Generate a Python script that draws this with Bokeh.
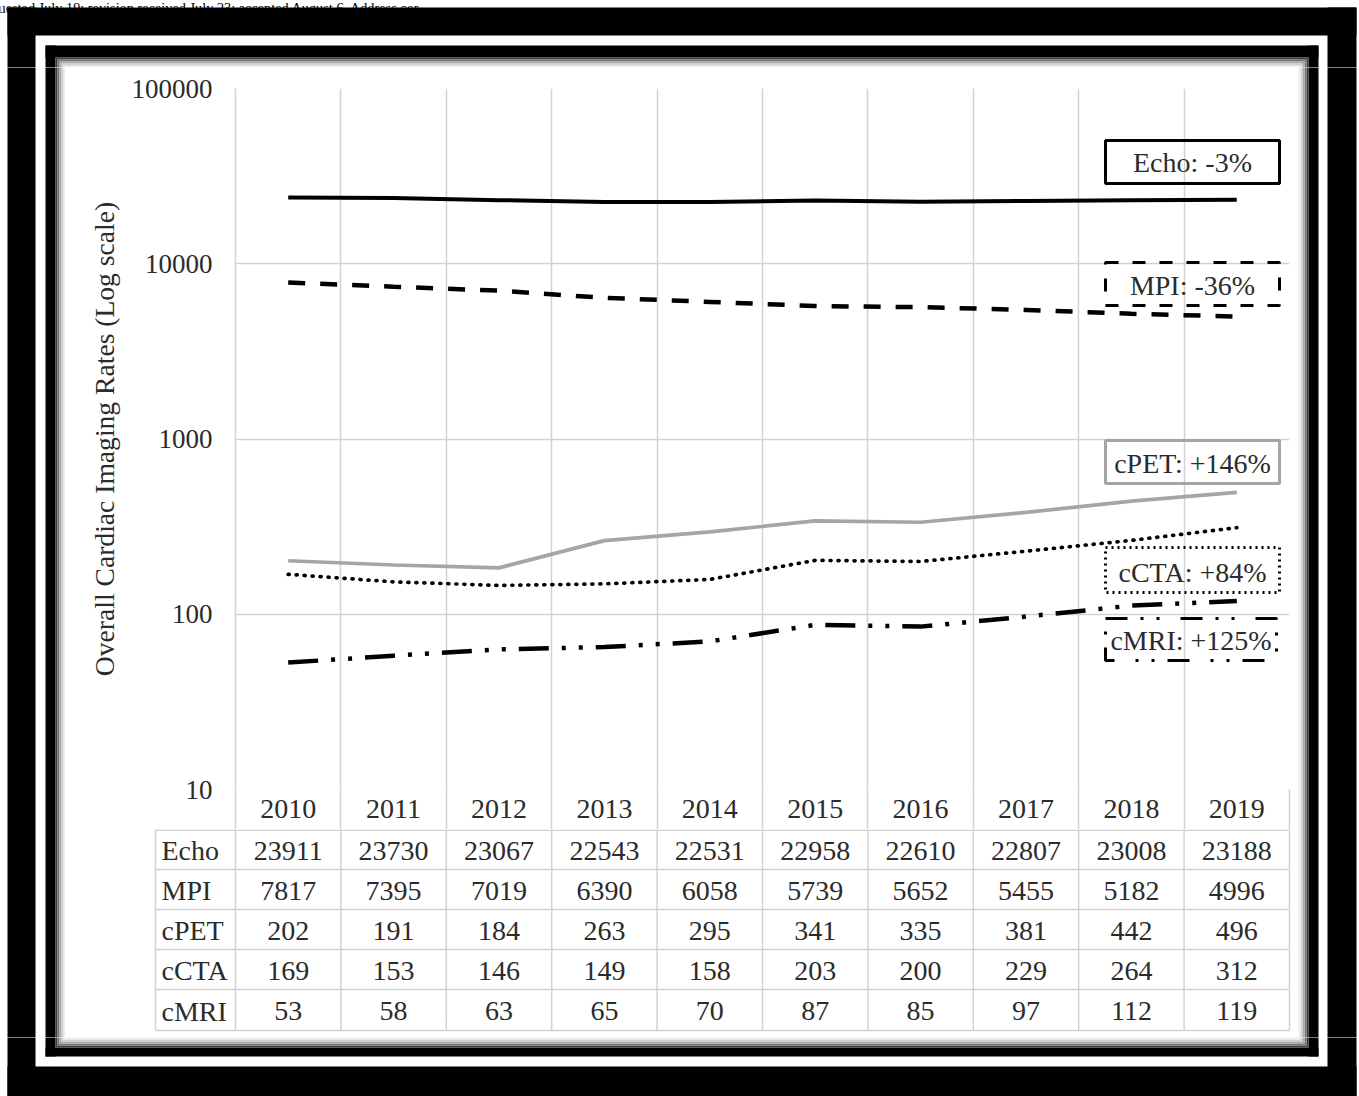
from bokeh.plotting import figure
from bokeh.layouts import row, column
from bokeh.models import (Range1d, FixedTicker, PrintfTickFormatter, BoxAnnotation, Label)
from bokeh.core.properties import value
from bokeh.embed import file_html
from bokeh.resources import INLINE

# ---------------- data ----------------
years = [2010, 2011, 2012, 2013, 2014, 2015, 2016, 2017, 2018, 2019]
echo = [23911, 23730, 23067, 22543, 22531, 22958, 22610, 22807, 23008, 23188]
mpi = [7817, 7395, 7019, 6390, 6058, 5739, 5652, 5455, 5182, 4996]
cpet = [202, 191, 184, 263, 295, 341, 335, 381, 442, 496]
ccta = [169, 153, 146, 149, 158, 203, 200, 229, 264, 312]
cmri = [53, 58, 63, 65, 70, 87, 85, 97, 112, 119]
series_names = ["Echo", "MPI", "cPET", "cCTA", "cMRI"]
series_values = [echo, mpi, cpet, ccta, cmri]
legend_texts = ["Echo: -3%", "MPI: -36%", "cPET: +146%", "cCTA: +84%", "cMRI: +125%"]
y_ticks = [10, 100, 1000, 10000, 100000]
y_title = "Overall Cardiac Imaging Rates (Log scale)"
header_text = "uested July 19; revision received July 23; accepted August 6. Address cor-"

# ---------------- layout constants (page pixels) ----------------
W, H = 1359, 1096
FL, FR, FT, FB = 235, 1289, 88, 789          # chart frame
CX0, CX1, CY0, CY1 = 65, 1298, 67, 1037      # content block (chart + table)
ROW_EDGES = [829, 869, 909, 949, 989, 1030]  # table rows (first = bottom of year row)
TAB_LEFT = 155
FONT = "Liberation Serif"
FS = "27px"       # y tick labels
FS_T = "28px"     # table, years, legend boxes
FS_TITLE = "27.6px"
TXT = "#2b2b2b"
GRID = "#d2d2d2"
COLW = (FR - FL) / len(years)


def yr(px):
    """page x pixel -> year coordinate"""
    return years[0] - 0.5 + (px - FL) / COLW


def sx(px):
    return px - FL


def sy(py):
    return FB - py


def bare_fig(x0, x1, y0, y1, xr=None):
    f = figure(width=x1 - x0, height=y1 - y0,
               x_range=xr if xr is not None else Range1d(x0, x1),
               y_range=Range1d(y1, y0),
               output_backend="svg", toolbar_location=None, title=None,
               x_axis_location=None, y_axis_location=None,
               min_border=0, min_border_left=0, min_border_right=0,
               min_border_top=0, min_border_bottom=0)
    f.outline_line_color = None
    f.background_fill_color = "white"
    f.border_fill_color = "white"
    f.grid.visible = False
    return f


# ---------------- decoration bands (frame around the figure) ----------------
BLACK_RECTS = [
    (7, 1356, 7, 35), (7, 35, 7, 1100), (1327, 1356, 7, 1100), (7, 1356, 1066, 1100),
    (45, 1318, 45, 57), (45, 55, 45, 1056), (1308, 1318, 45, 1056), (45, 1318, 1047, 1056),
]
SHADOW = ["#3c3c3c", "#767676", "#a8a8a8", "#cfcfcf", "#ebebeb"]


def decorate(f):
    f.quad(left=[r[0] for r in BLACK_RECTS], right=[r[1] for r in BLACK_RECTS],
           top=[r[2] for r in BLACK_RECTS], bottom=[r[3] for r in BLACK_RECTS],
           fill_color="black", line_color=None)
    for k, c in enumerate(SHADOW):
        o = 1 + 2 * k
        f.quad(left=[55 + o], right=[1308 - o], top=[57 + o], bottom=[1047 - o],
               fill_alpha=0, line_color=c, line_width=2)


top_f = bare_fig(0, W, 0, CY0)
decorate(top_f)
top_f.text(x=[-2], y=[7], text=[header_text], text_font=value(FONT), text_font_size="14.3px",
           text_color="black", text_align="left", text_baseline="alphabetic")
bot_f = bare_fig(0, W, CY1, H)
decorate(bot_f)
left_f = bare_fig(0, CX0, CY0, CY1)
decorate(left_f)
right_f = bare_fig(CX1, W, CY0, CY1)
decorate(right_f)

# ---------------- chart ----------------
p = figure(width=CX1 - CX0, height=ROW_EDGES[0] - CY0,
           x_range=Range1d(years[0] - 0.5, years[-1] + 0.5),
           y_range=Range1d(y_ticks[0], y_ticks[-1]), y_axis_type="log",
           output_backend="svg", toolbar_location=None, title=None,
           min_border_left=FL - CX0, min_border_right=CX1 - FR,
           min_border_top=FT - CY0, min_border_bottom=ROW_EDGES[0] - FB)
p.outline_line_color = None
p.background_fill_color = "white"
p.border_fill_color = "white"

p.yaxis.ticker = FixedTicker(ticks=y_ticks)
p.yaxis.formatter = PrintfTickFormatter(format="%d")
p.yaxis.major_tick_line_color = None
p.yaxis.minor_tick_line_color = None
p.yaxis.major_tick_out = 0
p.yaxis.major_tick_in = 0
p.yaxis.axis_line_color = GRID
p.yaxis.axis_line_width = 1.5
p.yaxis.major_label_standoff = 23
p.yaxis.major_label_text_font = FONT
p.yaxis.major_label_text_font_size = FS
p.yaxis.major_label_text_color = TXT
p.yaxis.axis_label = y_title
p.yaxis.axis_label_text_font = FONT
p.yaxis.axis_label_text_font_size = FS_TITLE
p.yaxis.axis_label_text_font_style = "normal"
p.yaxis.axis_label_text_color = TXT
p.yaxis.axis_label_standoff = 9

# x axis = year header row of the data table; minor ticks draw the cell borders
bounds = [y - 0.5 for y in years] + [years[-1] + 0.5]
p.xaxis.ticker = FixedTicker(ticks=years, minor_ticks=bounds)
p.xaxis.major_tick_line_color = None
p.xaxis.major_tick_out = 0
p.xaxis.major_tick_in = 0
p.xaxis.minor_tick_line_color = GRID
p.xaxis.minor_tick_line_width = 1.5
p.xaxis.minor_tick_out = ROW_EDGES[0] - FB
p.xaxis.minor_tick_in = 0
p.xaxis.axis_line_color = None
p.xaxis.major_label_standoff = -30
p.xaxis.major_label_text_font = FONT
p.xaxis.major_label_text_font_size = FS_T
p.xaxis.major_label_text_color = TXT

p.xgrid.ticker = FixedTicker(ticks=bounds)
p.xgrid.grid_line_color = GRID
p.xgrid.grid_line_width = 1.5
p.ygrid.grid_line_color = GRID
p.ygrid.grid_line_width = 1.5

p.line(years, echo, line_color="black", line_width=4)
p.line(years, mpi, line_color="black", line_width=4.5, line_dash="17 15")
p.line(years, cpet, line_color="#a5a5a5", line_width=3.7)
p.line(years, ccta, line_color="black", line_width=3.7, line_dash="1 7", line_cap="round")
p.line(years, cmri, line_color="black", line_width=4.5, line_dash="30 13 4 13 4 13")

boxes = [
    (1105, 1279, 140, 183, "black", "solid", 162),
    (1105, 1279, 262, 305, "black", "13 14", 285),
    (1105, 1279, 440, 483, "#a5a5a5", "solid", 463),
    (1105, 1279, 547, 592, "black", "2 4", 572),
    (1105, 1276, 618, 660, "black", "22 13 3 13 3 21", 640),
]
for (l, r, t_, b, col, dash, cy), txt in zip(boxes, legend_texts):
    p.add_layout(BoxAnnotation(left=sx(l), right=sx(r), top=sy(t_), bottom=sy(b),
                               left_units="screen", right_units="screen",
                               top_units="screen", bottom_units="screen",
                               fill_alpha=0, line_color=col, line_alpha=1,
                               line_width=3, line_dash=dash))
    p.add_layout(Label(x=sx((l + r) / 2), y=sy(cy), x_units="screen", y_units="screen", text=txt,
                       text_font=FONT, text_font_size=FS_T, text_color=TXT,
                       text_align="center", text_baseline="middle"))

# ---------------- data table ----------------
TY0 = ROW_EDGES[0]
t = bare_fig(CX0, CX1, TY0, CY1, xr=Range1d(yr(CX0), yr(CX1)))
x_left, x_right = yr(TAB_LEFT), yr(FR)
hy = [ROW_EDGES[0] + 0.75] + ROW_EDGES[1:]
t.segment(x0=[x_left] * len(hy), x1=[x_right] * len(hy), y0=hy, y1=hy,
          line_color=GRID, line_width=1.5)
vx = [x_left] + bounds
t.segment(x0=vx, x1=vx, y0=[TY0] * len(vx), y1=[ROW_EDGES[-1]] * len(vx),
          line_color=GRID, line_width=1.5)
centers = [(ROW_EDGES[i] + ROW_EDGES[i + 1]) / 2 + 1 for i in range(len(series_names))]
t.text(x=[x_left] * len(series_names), y=centers, text=series_names, x_offset=6,
       text_font=value(FONT), text_font_size=FS_T, text_color=TXT,
       text_align="left", text_baseline="middle")
tx, ty, tt = [], [], []
for cy, vals in zip(centers, series_values):
    for y_, v in zip(years, vals):
        tx.append(y_)
        ty.append(cy)
        tt.append(str(v))
t.text(x=tx, y=ty, text=tt, text_font=value(FONT), text_font_size=FS_T, text_color=TXT,
       text_align="center", text_baseline="middle")
decorate(t)

layout = column(top_f,
                row(left_f, column(row(p), row(t), spacing=0), right_f, spacing=0),
                bot_f, spacing=0)

open("out.html", "w").write(file_html(layout, INLINE))
